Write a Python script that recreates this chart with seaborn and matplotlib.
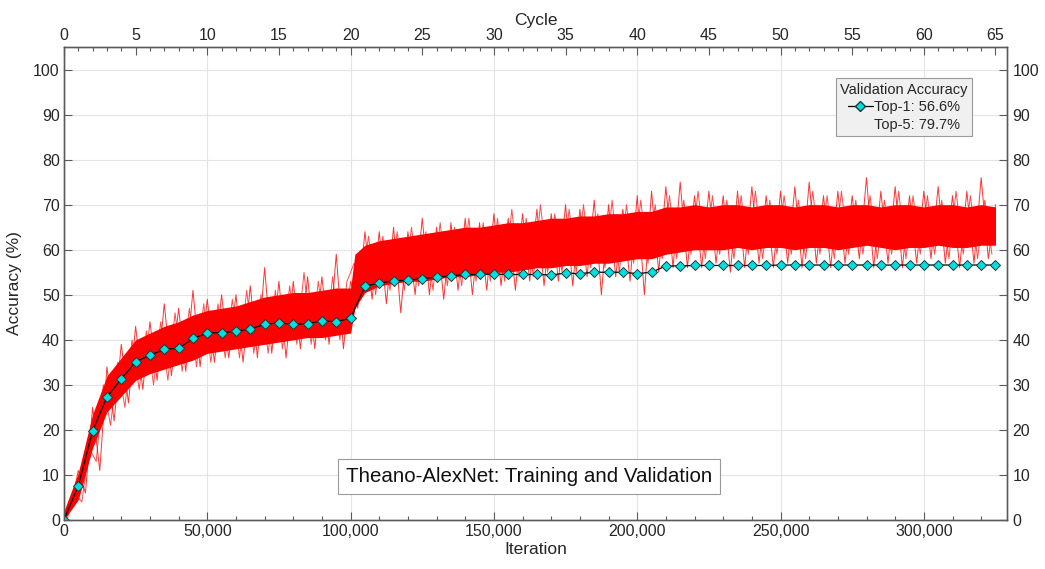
import matplotlib
matplotlib.use("Agg")
import matplotlib.pyplot as plt
from matplotlib.lines import Line2D
from matplotlib.ticker import MultipleLocator, FuncFormatter
import numpy as np
import pandas as pd
import seaborn as sns

# Validation top-1 accuracy, one point per cycle (1 cycle = 5000 iterations)
val_cycle = np.arange(0, 66)
val_top1 = [0, 7.6, 19.8, 27.3, 31.3, 35.1, 36.6, 37.9, 38.1, 40.3,
            41.5, 41.6, 41.9, 42.4, 43.4, 43.8, 43.4, 43.6, 44.2, 44.0,
            44.8, 51.9, 52.6, 53.1, 53.2, 53.6, 53.9, 54.2, 54.5, 54.5,
            54.6, 54.5, 54.5, 54.5, 54.4, 54.8, 54.7, 55.0, 55.0, 55.0,
            54.7, 55.0, 56.4, 56.4, 56.5, 56.5, 56.5, 56.5, 56.5, 56.5,
            56.6, 56.6, 56.6, 56.6, 56.6, 56.6, 56.6, 56.6, 56.6, 56.6,
            56.6, 56.6, 56.6, 56.6, 56.6, 56.6]
iters_per_cycle = 5000

# Training accuracy: dense band ...
band_iter = list(range(0, 100001, 5000)) + [101500] + list(range(105000, 325001, 5000))
band_lo = [0, 4.5, 16, 24, 27.5, 31, 32.5, 33.5, 34.5, 35.5,
           37, 37.5, 38, 38.5, 39, 39.5, 40, 40.5, 40.5, 41,
           41.5, 47,
           50.5, 52, 52.5, 53, 53, 53.5, 54, 54, 54.5, 55,
           55, 55.5, 56, 56, 56.5, 56.5, 57, 57, 57.5, 58,
           58, 59, 59.5, 60, 60, 60, 60.5, 60, 60.5, 60.5,
           60, 60.5, 60.5, 60, 60.5, 61, 60.5, 60, 60.5, 60.5,
           61, 60.5, 60.5, 61, 61]
band_hi = [2, 10.5, 23.5, 32, 36, 40, 41.5, 43, 44, 45.5,
           46.5, 47, 47.5, 48.5, 49.5, 50, 50.5, 50.5, 51, 51.5,
           51.5, 59,
           61, 62, 62.5, 63, 63.5, 64, 64.5, 65, 65, 65.5,
           66, 66, 66.5, 67, 67, 67.5, 67.5, 68, 68, 68.5,
           68.5, 69.5, 69.5, 70, 69.5, 70, 70, 69.5, 70, 70,
           69.5, 70, 70, 69.5, 70, 70, 69.5, 70, 70, 69.5,
           70, 70, 69.5, 70, 69.5]

# ... and the spiky traces around it, sampled every 2500 iterations
spike_iter = np.arange(0, 325001, 2500)
spike_acc = [0, 3, 11, 6, 25, 11, 34, 22, 39, 26,
             43, 29, 44, 31, 48, 32, 47, 33, 51, 34,
             49, 35, 50, 36, 50, 35, 52, 36, 56, 37,
             53, 36, 53, 38, 54, 38, 54, 39, 59, 38,
             53, 47, 64, 49, 64, 48, 65, 46, 64, 50,
             67, 50, 65, 49, 66, 51, 67, 50, 66, 51,
             68, 52, 67, 51, 68, 53, 69, 52, 68, 53,
             70, 52, 69, 54, 71, 50, 70, 54, 69, 53,
             72, 50, 73, 55, 74, 56, 75, 56, 72, 56,
             73, 57, 72, 55, 73, 56, 74, 57, 72, 56,
             73, 57, 74, 56, 75, 57, 72, 56, 73, 57,
             72, 58, 76, 56, 73, 57, 74, 56, 72, 57,
             73, 58, 74, 57, 72, 56, 73, 57, 76, 58,
             70]
spike_iter2 = np.arange(1250, 325000, 2500)
spike_acc2 = [0.5, 6, 4, 16, 13, 30, 21, 35, 25, 40,
              29, 42, 30, 44, 31, 46, 33, 47, 34, 48,
              35, 48, 36, 49, 36, 51, 37, 50, 37, 51,
              38, 52, 39, 55, 39, 53, 40, 54, 40, 53,
              57, 51, 63, 50, 63, 51, 64, 51, 65, 52,
              64, 51, 66, 52, 65, 52, 67, 53, 66, 53,
              67, 53, 69, 54, 67, 54, 70, 55, 68, 55,
              69, 55, 70, 56, 68, 56, 71, 55, 70, 57,
              71, 57, 70, 58, 72, 58, 71, 59, 73, 58,
              72, 59, 71, 58, 72, 59, 73, 58, 71, 59,
              72, 59, 71, 58, 73, 59, 72, 58, 73, 59,
              71, 59, 72, 58, 71, 59, 73, 58, 72, 59,
              72, 59, 71, 58, 73, 59, 72, 58, 71, 59]

legend_labels = ["Top-1: 56.6%", "Top-5: 79.7%"]
title_text = "Theano-AlexNet: Training and Validation"

sns.set_theme(style="white")
plt.rcParams["font.family"] = ["Liberation Sans", "DejaVu Sans"]

axis_col = "#5a5a5a"
text_col = "#262626"

fig = plt.figure(figsize=(10.45, 5.69), dpi=100)
ax = fig.add_axes([0.0612, 0.0861, 0.9024, 0.8313])

ax.fill_between(band_iter, band_lo, band_hi, color="#ff0000", lw=0, zorder=2)
spikes = pd.DataFrame({"iter": spike_iter, "acc": spike_acc})
sns.lineplot(data=spikes, x="iter", y="acc", ax=ax, color="#ff0000",
             lw=0.7, alpha=0.8, sort=False, estimator=None, zorder=3)
spikes2 = pd.DataFrame({"iter": spike_iter2, "acc": spike_acc2})
sns.lineplot(data=spikes2, x="iter", y="acc", ax=ax, color="#ff0000",
             lw=0.7, alpha=0.7, sort=False, estimator=None, zorder=3)

val = pd.DataFrame({"iter": val_cycle * iters_per_cycle, "acc": val_top1})
sns.lineplot(data=val, x="iter", y="acc", ax=ax, color="black", lw=0.9,
             marker="D", markersize=5.5, markerfacecolor="#00e0e0",
             markeredgecolor="#1a3a3a", markeredgewidth=0.7, zorder=5)

ax.set_xlim(0, 329000)
ax.set_ylim(0, 105)
ax.xaxis.set_major_locator(MultipleLocator(50000))
ax.xaxis.set_minor_locator(MultipleLocator(10000))
ax.xaxis.set_major_formatter(FuncFormatter(lambda v, p: f"{int(v):,}"))
ax.yaxis.set_major_locator(MultipleLocator(10))
ax.grid(True, which="major", color="#e4e4e4", lw=0.8)
ax.set_axisbelow(True)
ax.set_xlabel("Iteration", fontsize=12.5, color=text_col, labelpad=2)
ax.set_ylabel("Accuracy (%)", fontsize=12.5, color=text_col, labelpad=8)

for s in ax.spines.values():
    s.set_color(axis_col)
    s.set_linewidth(0.9)

ax.tick_params(axis="both", which="major", direction="in", length=6, width=0.8,
               color=axis_col, labelsize=11.5, labelcolor=text_col, pad=3)
ax.tick_params(axis="x", which="minor", direction="in", length=3, width=0.8,
               color=axis_col)

# right y axis
ax_r = ax.twinx()
ax_r.set_ylim(0, 105)
ax_r.yaxis.set_major_locator(MultipleLocator(10))
ax_r.tick_params(axis="y", direction="in", length=6, width=0.8, color=axis_col,
                 labelsize=11.5, labelcolor=text_col, pad=4)
ax_r.grid(False)

# top cycle axis
ax_t = ax.twiny()
ax_t.set_xlim(0, 329000 / iters_per_cycle)
ax_t.xaxis.set_major_locator(MultipleLocator(5))
ax_t.xaxis.set_minor_locator(MultipleLocator(1))
ax_t.tick_params(axis="x", which="major", direction="in", length=6, width=0.8,
                 color=axis_col, labelsize=11.5, labelcolor=text_col, pad=3)
ax_t.tick_params(axis="x", which="minor", direction="in", length=3, width=0.8,
                 color=axis_col)
ax_t.set_xlabel("Cycle", fontsize=12.5, color=text_col, labelpad=2)
ax_t.grid(False)
for a in (ax_r, ax_t):
    for s in a.spines.values():
        s.set_color(axis_col)
        s.set_linewidth(0.9)

handles = [Line2D([], [], color="black", lw=0.9, marker="D", markersize=5,
                  markerfacecolor="#00e0e0", markeredgecolor="#1a3a3a"),
           Line2D([], [], linestyle="none")]
leg = ax_t.legend(handles, legend_labels, title="Validation Accuracy",
                  loc="upper right", bbox_to_anchor=(0.963, 0.934),
                  fontsize=10.5, title_fontsize=10.5, frameon=True, fancybox=False,
                  framealpha=1, facecolor="#f0f0f0", edgecolor="#9a9a9a",
                  handlelength=1.7, handletextpad=0.1, borderpad=0.3,
                  labelspacing=0.25, borderaxespad=0)
leg.get_frame().set_linewidth(0.8)
for t in leg.get_texts():
    t.set_color(text_col)
leg.get_title().set_color(text_col)

ax.text(162200, 9.6, title_text, fontsize=14.8, color="#111111",
        ha="center", va="center", zorder=6,
        bbox=dict(boxstyle="square,pad=0.4", fc="white", ec="#9a9a9a", lw=0.8))

fig.savefig("out.png", dpi=100)
